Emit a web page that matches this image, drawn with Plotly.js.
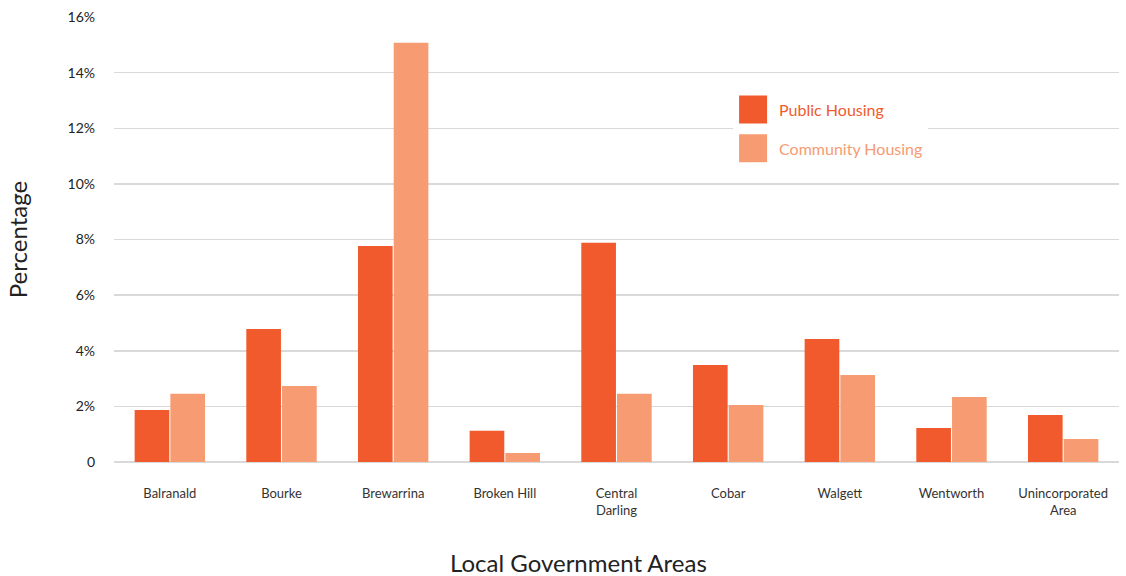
<!DOCTYPE html>
<html>
<head>
<meta charset="utf-8">
<script src="https://cdn.plot.ly/plotly-3.0.1.min.js"></script>
<style>html,body{margin:0;padding:0;background:#fff;}#chart{width:1126px;height:576px;}</style>
</head>
<body>
<div id="chart"></div>
<script>
const categories = ["Balranald", "Bourke", "Brewarrina", "Broken Hill", "Central<br>Darling", "Cobar", "Walgett", "Wentworth", "Unincorporated<br>Area"];
const publicHousing = [1.87, 4.78, 7.77, 1.12, 7.88, 3.49, 4.42, 1.22, 1.69];
const communityHousing = [2.45, 2.73, 15.07, 0.32, 2.45, 2.05, 3.13, 2.34, 0.83];
const yTickVals = [0, 2, 4, 6, 8, 10, 12, 14, 16];
const yTickText = ["0", "2%", "4%", "6%", "8%", "10%", "12%", "14%", "16%"];

const FONT = "Lato, 'Open Sans', sans-serif";
const C_PUBLIC = "#F15A2C";
const C_COMM = "#F69B72";

const traces = [
  {type: "bar", x: categories, y: publicHousing, name: '<span style="color:' + C_PUBLIC + '">Public Housing</span>',
   marker: {color: C_PUBLIC}, legendgroup: "a", hoverinfo: "y"},
  {type: "bar", x: categories, y: communityHousing, name: '<span style="color:' + C_COMM + '">Community Housing</span>',
   marker: {color: C_COMM}, legendgroup: "b", hoverinfo: "y"}
];

const layout = {
  width: 1126, height: 576,
  margin: {l: 114, r: 7, t: 17, b: 114},
  paper_bgcolor: "#fff", plot_bgcolor: "#fff",
  font: {family: FONT, color: "#333", size: 13},
  barmode: "group", bargap: 0.36, bargroupgap: 0.03,
  showlegend: true,
  legend: {x: 0.616, xanchor: "left", y: 0.83, yanchor: "top", bgcolor: "#fff",
           font: {family: FONT, size: 16}, traceorder: "grouped", tracegroupgap: 15, itemwidth: 36},
  xaxis: {type: "category", tickfont: {size: 13, color: "#333"}, ticks: "", showgrid: false,
          zeroline: false, showline: false, ticklabelstandoff: 22},
  yaxis: {range: [0, 16], tickvals: yTickVals, ticktext: yTickText, tickfont: {size: 14, color: "#222"},
          showgrid: true, gridcolor: "#d9d9d9", gridwidth: 1.5, zeroline: true, zerolinecolor: "#d9d9d9",
          zerolinewidth: 1.5, showline: false, ticks: "", ticklabelstandoff: 18, automargin: false,
          title: {text: "Percentage", font: {size: 24, color: "#222"}, standoff: 33}},
  shapes: [{type: "rect", xref: "paper", yref: "paper", x0: -0.01, x1: 1.01, y0: 0.996, y1: 1.02,
            fillcolor: "#fff", line: {width: 0}, layer: "between"}],
  annotations: [{text: "Local Government Areas", xref: "paper", yref: "paper", x: 0.462, y: -0.225,
                 xanchor: "center", yanchor: "middle", showarrow: false, font: {size: 24, color: "#222"}}]
};

Plotly.newPlot("chart", traces, layout, {displayModeBar: false, staticPlot: true}).then(function () {
  document.querySelectorAll("#chart .legend .legendpoints path").forEach(function (p) {
    p.setAttribute("d", "M-17,-14h28v28h-28z");
  });
});
</script>
</body>
</html>
